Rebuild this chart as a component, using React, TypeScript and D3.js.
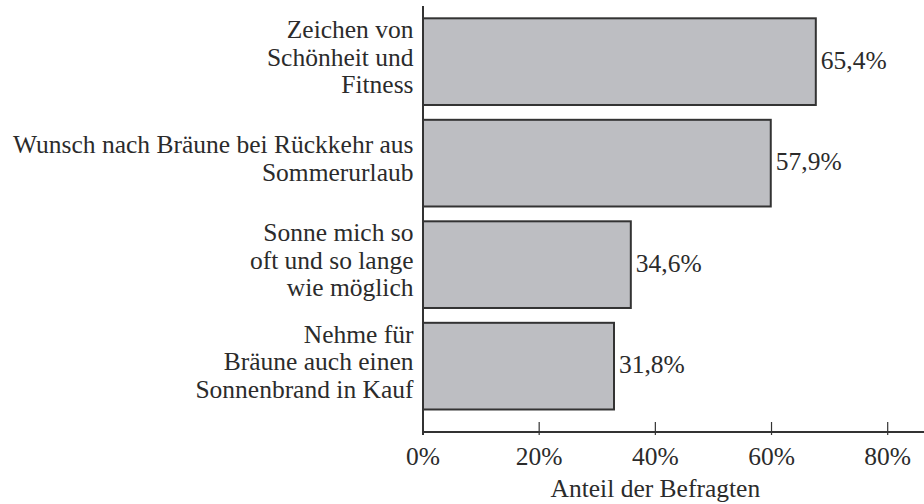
import React from "react";
import * as d3 from "d3";

const categories: string[][] = [
  ["Zeichen von", "Schönheit und", "Fitness"],
  ["Wunsch nach Bräune bei Rückkehr aus", "Sommerurlaub"],
  ["Sonne mich so", "oft und so lange", "wie möglich"],
  ["Nehme für", "Bräune auch einen", "Sonnenbrand in Kauf"],
];
const values: number[] = [65.4, 57.9, 34.6, 31.8];
const valueLabels: string[] = ["65,4%", "57,9%", "34,6%", "31,8%"];
const tickValues: number[] = [0, 20, 40, 60, 80];
const tickLabels: string[] = ["0%", "20%", "40%", "60%", "80%"];
const axisTitle = "Anteil der Befragten";

const W = 924;
const H = 504;
const FS = 25.5;
const TEXT = "#2b2b2b";
const LINE = "#333333";
const txtStyle: React.CSSProperties = { fontFamily: '"Liberation Serif"', fontSize: FS };

export default function App() {
  const x0 = 423;
  const x80 = 887.7;
  const axisY = 432;
  const x = d3.scaleLinear().domain([0, 80]).range([x0, x80]);
  // the bars in the original are drawn slightly longer than the axis scale
  const xBar = d3.scaleLinear().domain([0, 80]).range([x0, x0 + (x80 - x0) * 1.034]);
  const idx = categories.map((_, i) => String(i));
  const y = d3
    .scaleBand<string>()
    .domain(idx)
    .range([10.9, 416.9])
    .paddingInner(0.146)
    .paddingOuter(0.073);
  const lineH = 27.5;

  return (
    <svg
      width={W}
      height={H}
      style={{ position: "absolute", left: 0, top: 0, background: "#fff" }}
    >
      {values.map((v, i) => {
        const by = y(String(i))!;
        const bh = y.bandwidth();
        const cy = by + bh / 2;
        const lines = categories[i];
        const midBase = cy + 4;
        const firstBase = midBase - ((lines.length - 1) / 2) * lineH;
        return (
          <g key={i}>
            <rect
              x={xBar(0)}
              y={by}
              width={xBar(v) - xBar(0)}
              height={bh}
              fill="#bdbec2"
              stroke={LINE}
              strokeWidth={2}
            />
            <text x={xBar(v) + 5} y={cy + 7} fill={TEXT} style={txtStyle}>
              {valueLabels[i]}
            </text>
            <text textAnchor="end" fill={TEXT} style={txtStyle}>
              {lines.map((l, j) => (
                <tspan key={j} x={413.5} y={firstBase + j * lineH}>
                  {l}
                </tspan>
              ))}
            </text>
          </g>
        );
      })}
      {/* y axis */}
      <line x1={x0} x2={x0} y1={6} y2={axisY + 3} stroke={LINE} strokeWidth={2} />
      {/* x axis */}
      <line x1={x0 - 1} x2={W} y1={axisY} y2={axisY} stroke={LINE} strokeWidth={2} />
      {tickValues.map((t, i) => (
        <g key={t}>
          <line
            x1={x(t)}
            x2={x(t)}
            y1={axisY - 10}
            y2={axisY + 3}
            stroke={LINE}
            strokeWidth={1.2}
          />
          <text x={x(t)} y={465} textAnchor="middle" fill={TEXT} style={txtStyle}>
            {tickLabels[i]}
          </text>
        </g>
      ))}
      <text x={(x0 + x80) / 2} y={497} textAnchor="middle" fill={TEXT} style={txtStyle}>
        {axisTitle}
      </text>
    </svg>
  );
}
